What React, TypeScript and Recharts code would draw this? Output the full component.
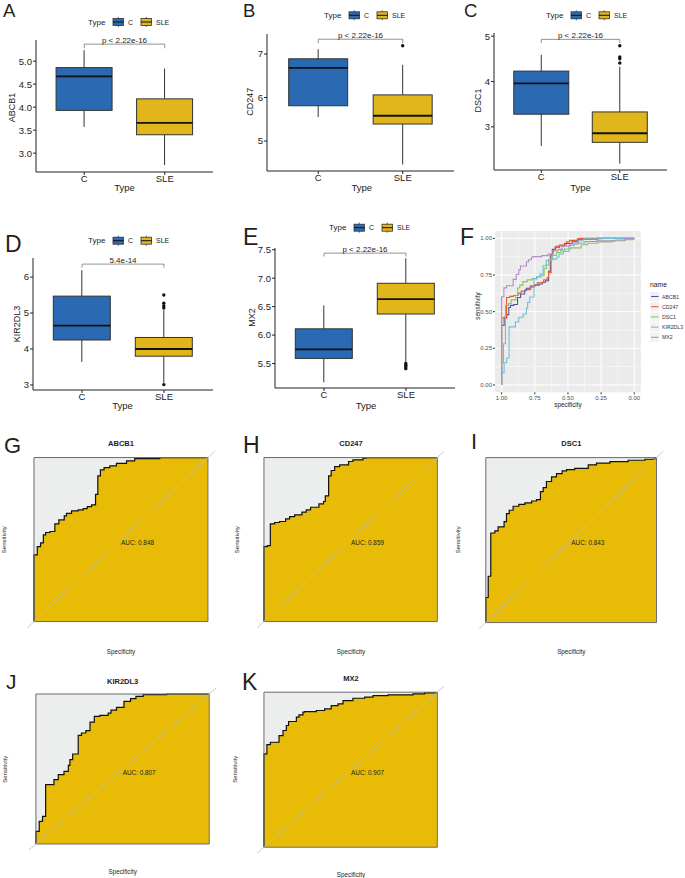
import React from 'react';
import {
  ComposedChart,
  LineChart,
  Bar,
  Line,
  Area,
  XAxis,
  YAxis,
  CartesianGrid,
  ReferenceLine,
  ReferenceArea,
} from 'recharts';

const FONT = '"Liberation Sans", Arial, Helvetica, sans-serif';

/* ---------------- data: box plots ---------------- */
const GROUPS = ['C', 'SLE'];
const GROUP_COLORS = ['#2A6AB3', '#E1B61B'];

// [lower whisker, Q1, median, Q3, upper whisker] for C and SLE
const ABCB1_BOX = [[3.57, 3.93, 4.67, 4.86, 5.24], [2.74, 3.4, 3.66, 4.18, 4.84]];
const ABCB1_OUT = [[], []];
const ABCB1_TICKS = [3.0, 3.5, 4.0, 4.5, 5.0];
const ABCB1_TICK_LABELS = ['3.0', '3.5', '4.0', '4.5', '5.0'];

const CD247_BOX = [[5.55, 5.81, 6.68, 6.89, 7.11], [4.46, 5.39, 5.58, 6.06, 6.75]];
const CD247_OUT = [[], [7.19]];
const CD247_TICKS = [5, 6, 7];
const CD247_TICK_LABELS = ['5', '6', '7'];

const DSC1_BOX = [[2.58, 3.28, 3.96, 4.23, 4.59], [2.19, 2.66, 2.86, 3.33, 4.33]];
const DSC1_OUT = [[], [4.41, 4.5, 4.54, 4.79]];
const DSC1_TICKS = [3, 4, 5];
const DSC1_TICK_LABELS = ['3', '4', '5'];

const KIR2DL3_BOX = [[3.64, 4.25, 4.65, 5.47, 6.19], [3.06, 3.8, 4.0, 4.32, 5.08]];
const KIR2DL3_OUT = [[], [3.01, 5.14, 5.2, 5.27, 5.5]];
const KIR2DL3_TICKS = [3, 4, 5, 6];
const KIR2DL3_TICK_LABELS = ['3', '4', '5', '6'];

const MX2_BOX = [[5.17, 5.59, 5.75, 6.11, 6.52], [5.53, 6.37, 6.63, 6.91, 7.35]];
const MX2_OUT = [[], [5.41, 5.44, 5.47, 5.5]];
const MX2_TICKS = [5.5, 6.0, 6.5, 7.0, 7.5];
const MX2_TICK_LABELS = ['5.5', '6.0', '6.5', '7.0', '7.5'];

const P_LABELS = ['p < 2.22e-16', 'p < 2.22e-16', 'p < 2.22e-16', '5.4e-14', 'p < 2.22e-16'];

/* ---------------- data: ROC curves (specificity, sensitivity) ---------------- */
const ABCB1_SPEC = [1, 1, 0.981, 0.962, 0.946, 0.933, 0.908, 0.88, 0.857, 0.826, 0.813, 0.784, 0.746, 0.717, 0.694, 0.669, 0.646, 0.633, 0.618, 0.597, 0.564, 0.526, 0.468, 0.421, 0.277, 0];
const ABCB1_SENS = [0, 0.407, 0.457, 0.48, 0.528, 0.543, 0.549, 0.596, 0.62, 0.644, 0.66, 0.675, 0.681, 0.689, 0.701, 0.711, 0.776, 0.888, 0.925, 0.939, 0.949, 0.965, 0.98, 0.994, 1.0, 1.0];

const CD247_SPEC = [1, 1, 0.981, 0.963, 0.938, 0.91, 0.875, 0.852, 0.823, 0.781, 0.756, 0.731, 0.683, 0.656, 0.646, 0.627, 0.612, 0.592, 0.563, 0.512, 0.487, 0.429, 0.41, 0];
const CD247_SENS = [0, 0.457, 0.463, 0.596, 0.604, 0.61, 0.626, 0.64, 0.65, 0.667, 0.681, 0.697, 0.717, 0.732, 0.766, 0.888, 0.921, 0.945, 0.955, 0.976, 0.986, 0.996, 1.0, 1.0];

const DSC1_SPEC = [1, 1, 0.986, 0.971, 0.947, 0.928, 0.893, 0.879, 0.863, 0.84, 0.807, 0.771, 0.732, 0.703, 0.68, 0.664, 0.645, 0.615, 0.586, 0.553, 0.527, 0.479, 0.4, 0.352, 0.273, 0.166, 0.068, 0.01, 0];
const DSC1_SENS = [0, 0.152, 0.281, 0.543, 0.556, 0.58, 0.612, 0.661, 0.681, 0.705, 0.717, 0.725, 0.737, 0.745, 0.794, 0.818, 0.855, 0.883, 0.903, 0.919, 0.927, 0.935, 0.956, 0.966, 0.976, 0.984, 0.99, 1.0, 1.0];

const KIR2DL3_SPEC = [1, 1, 0.981, 0.962, 0.944, 0.896, 0.871, 0.838, 0.813, 0.804, 0.788, 0.756, 0.737, 0.712, 0.688, 0.663, 0.631, 0.583, 0.567, 0.535, 0.492, 0.454, 0.423, 0.381, 0.246, 0];
const KIR2DL3_SENS = [0, 0.084, 0.151, 0.184, 0.396, 0.429, 0.462, 0.484, 0.524, 0.562, 0.6, 0.724, 0.74, 0.756, 0.813, 0.851, 0.858, 0.873, 0.893, 0.911, 0.951, 0.969, 0.984, 0.996, 1.0, 1.0];

const MX2_SPEC = [1, 1, 0.983, 0.963, 0.913, 0.89, 0.871, 0.858, 0.813, 0.798, 0.775, 0.765, 0.698, 0.65, 0.612, 0.573, 0.544, 0.487, 0.419, 0.371, 0.285, 0.14, 0.073, 0];
const MX2_SENS = [0, 0.602, 0.662, 0.677, 0.72, 0.753, 0.785, 0.811, 0.839, 0.854, 0.871, 0.875, 0.882, 0.892, 0.914, 0.925, 0.946, 0.961, 0.968, 0.978, 0.983, 0.989, 0.996, 1.0];

const GENES = ['ABCB1', 'CD247', 'DSC1', 'KIR2DL3', 'MX2'];
const AUC_LABELS = ['AUC: 0.848', 'AUC: 0.859', 'AUC: 0.843', 'AUC: 0.807', 'AUC: 0.907'];
const ROC_COLORS = ['#4A56A6', '#F05A2A', '#86C75D', '#72BFDA', '#B58CCB'];
const F_TICKS = [0, 0.25, 0.5, 0.75, 1];
const F_TICK_LABELS = ['0.00', '0.25', '0.50', '0.75', '1.00'];
const F_MINOR = [0.125, 0.375, 0.625, 0.875];
const ROC_GOLD = '#E8BC06';

const toRoc = (spec: number[], sens: number[]) => spec.map((s, i) => ({ spec: s, sens: sens[i] }));

/* ---------------- box plot ---------------- */
const BoxShape = (props: any) => {
  const { x, y, width, height, payload } = props;
  if (!payload) return null;
  const [lo, q1, med, q3, hi] = payload.stats;
  const top = Math.min(y, y + height);
  const h = Math.abs(height);
  const py = (v: number) => top + ((hi - v) * h) / (hi - lo);
  const cx = x + width / 2;
  return (
    <g>
      <line x1={cx} x2={cx} y1={py(hi)} y2={py(q3)} stroke="#333" strokeWidth={1} />
      <line x1={cx} x2={cx} y1={py(q1)} y2={py(lo)} stroke="#333" strokeWidth={1} />
      <rect x={x} y={py(q3)} width={width} height={py(q1) - py(q3)} fill={payload.color} stroke="#333" strokeWidth={1} />
      <line x1={x} x2={x + width} y1={py(med)} y2={py(med)} stroke="#111" strokeWidth={1.8} />
      {payload.out.map((v: number, i: number) => (
        <circle key={i} cx={cx} cy={py(v)} r={1.7} fill="#111" />
      ))}
    </g>
  );
};

type Geom = { axisX: number; plotTop: number; plotRight: number; axisY: number };

function BoxPanel(p: {
  geom: Geom;
  stats: number[][];
  outs: number[][];
  ticks: number[];
  tickLabels: string[];
  domain: [number, number];
  bracket: [number, number];
  pText: string;
}) {
  const yw = 32, mt = 4, mr = 4, xh = 16;
  const { geom } = p;
  const left = geom.axisX - yw;
  const top = geom.plotTop - mt;
  const width = geom.plotRight + mr - left;
  const height = geom.axisY + xh - top;
  const pw = geom.plotRight - geom.axisX;
  const pad = Math.round(pw * 0.0455);
  const data = GROUPS.map((g, i) => ({
    group: g,
    range: [p.stats[i][0], p.stats[i][4]],
    stats: p.stats[i],
    out: p.outs[i],
    color: GROUP_COLORS[i],
  }));
  const tickStyle = { fontSize: 9.5, fill: '#222', fontFamily: FONT };
  return (
    <div style={{ position: 'absolute', left, top }}>
      <ComposedChart width={width} height={height} data={data} margin={{ top: mt, right: mr, bottom: 0, left: 0 }} barCategoryGap="15%">
        <XAxis
          dataKey="group"
          height={xh}
          padding={{ left: pad, right: pad }}
          tickSize={3}
          tickMargin={0}
          tick={tickStyle}
          interval={0}
          axisLine={{ stroke: '#222', strokeWidth: 1 }}
          tickLine={{ stroke: '#222' }}
        />
        <YAxis
          width={yw}
          type="number"
          domain={p.domain}
          ticks={p.ticks}
          allowDataOverflow
          tickSize={3}
          tickMargin={1}
          tick={tickStyle}
          tickFormatter={(v: number) => p.tickLabels[p.ticks.indexOf(v)]}
          axisLine={{ stroke: '#222', strokeWidth: 1 }}
          tickLine={{ stroke: '#222' }}
          interval={0}
        />
        <Bar dataKey="range" shape={BoxShape} isAnimationActive={false} />
        <ReferenceLine
          segment={[{ x: 'C', y: p.bracket[0] }, { x: 'SLE', y: p.bracket[0] }]}
          stroke="#777"
          strokeWidth={0.8}
          ifOverflow="visible"
          label={{ value: p.pText, position: 'top', offset: 1, fontSize: 8, fill: '#222', fontFamily: FONT }}
        />
        <ReferenceLine segment={[{ x: 'C', y: p.bracket[0] }, { x: 'C', y: p.bracket[1] }]} stroke="#777" strokeWidth={0.8} ifOverflow="visible" />
        <ReferenceLine segment={[{ x: 'SLE', y: p.bracket[0] }, { x: 'SLE', y: p.bracket[1] }]} stroke="#777" strokeWidth={0.8} ifOverflow="visible" />
      </ComposedChart>
    </div>
  );
}

/* ---------------- single ROC ---------------- */
function RocPanel(p: { box: { x0: number; x1: number; y0: number; y1: number }; spec: number[]; sens: number[] }) {
  const e = 0.04;
  const bw = p.box.x1 - p.box.x0;
  const bh = p.box.y1 - p.box.y0;
  const left = p.box.x0 - e * bw;
  const top = p.box.y0 - e * bh;
  const width = bw * (1 + 2 * e);
  const height = bh * (1 + 2 * e);
  const data = toRoc(p.spec, p.sens);
  return (
    <div style={{ position: 'absolute', left, top }}>
      <ComposedChart width={width} height={height} data={data} margin={{ top: 0, right: 0, bottom: 0, left: 0 }}>
        <XAxis type="number" dataKey="spec" domain={[-e, 1 + e]} reversed hide allowDataOverflow />
        <YAxis type="number" domain={[-e, 1 + e]} hide allowDataOverflow />
        <Area dataKey={() => 1} baseValue={0} type="linear" fill="#ECEDED" fillOpacity={1} stroke="none" isAnimationActive={false} />
        <Area dataKey="sens" baseValue={0} type="stepAfter" fill={ROC_GOLD} fillOpacity={1} stroke="#111" strokeWidth={1.2} isAnimationActive={false} />
        <ReferenceLine segment={[{ x: 1 + e, y: -e }, { x: -e, y: 1 + e }]} stroke="#BDBDBD" strokeWidth={0.8} ifOverflow="visible" />
        <ReferenceArea x1={0} x2={1} y1={0} y2={1} fill="none" stroke="#6B6B6B" strokeWidth={1} ifOverflow="visible" />
      </ComposedChart>
    </div>
  );
}

/* ---------------- combined ROC (F) ---------------- */
const ROC_SERIES = [
  toRoc(ABCB1_SPEC, ABCB1_SENS),
  toRoc(CD247_SPEC, CD247_SENS),
  toRoc(DSC1_SPEC, DSC1_SENS),
  toRoc(KIR2DL3_SPEC, KIR2DL3_SENS),
  toRoc(MX2_SPEC, MX2_SENS),
];

function PanelF() {
  const left = 455.4, top = 230.7;
  const yw = 40, xh = 12;
  const width = 641.3 - left;
  const height = 392 - top + xh;
  const tickStyle = { fontSize: 6, fill: '#4D4D4D', fontFamily: FONT };
  return (
    <div style={{ position: 'absolute', left, top }}>
      <LineChart width={width} height={height} margin={{ top: 0, right: 0, bottom: 0, left: 0 }}>
        <CartesianGrid fill="#EBEBEB" stroke="#FFFFFF" strokeWidth={0.5} horizontalValues={F_MINOR} verticalValues={F_MINOR} />
        <CartesianGrid stroke="#FFFFFF" strokeWidth={1} horizontalValues={F_TICKS} verticalValues={F_TICKS} />
        <XAxis
          type="number"
          dataKey="spec"
          domain={[-0.05, 1.05]}
          reversed
          allowDataOverflow
          ticks={F_TICKS}
          tickFormatter={(v: number) => F_TICK_LABELS[F_TICKS.indexOf(v)]}
          height={xh}
          tickSize={2}
          tickMargin={1}
          tick={tickStyle}
          axisLine={false}
          tickLine={{ stroke: '#333' }}
          interval={0}
        />
        <YAxis
          type="number"
          domain={[-0.05, 1.05]}
          allowDataOverflow
          ticks={F_TICKS}
          tickFormatter={(v: number) => F_TICK_LABELS[F_TICKS.indexOf(v)]}
          width={yw}
          tickSize={2}
          tickMargin={1}
          tick={tickStyle}
          axisLine={false}
          tickLine={{ stroke: '#333' }}
          interval={0}
        />
        {ROC_SERIES.map((d, i) => (
          <Line key={GENES[i]} data={d} dataKey="sens" name={GENES[i]} type="stepAfter" stroke={ROC_COLORS[i]} strokeWidth={1.1} dot={false} isAnimationActive={false} />
        ))}
      </LineChart>
    </div>
  );
}

/* ---------------- overlay text helpers ---------------- */
const Txt = (p: { x: number; y: number; s: string; size: number; anchor?: string; weight?: string; rot?: number; fill?: string }) => (
  <text
    x={p.x}
    y={p.y}
    fontSize={p.size}
    textAnchor={(p.anchor || 'middle') as any}
    dominantBaseline="central"
    fontWeight={p.weight || 'normal'}
    fill={p.fill || '#222'}
    fontFamily={FONT}
    transform={p.rot ? `rotate(${p.rot} ${p.x} ${p.y})` : undefined}
  >
    {p.s}
  </text>
);

const Letter = (p: { x: number; y: number; s: string; size: number }) => (
  <text x={p.x} y={p.y} fontSize={p.size} fill="#231F20" fontFamily={FONT}>
    {p.s}
  </text>
);

const BoxLegend = (p: { x: number; y: number }) => {
  const keys = [p.x + 25, p.x + 53];
  const labs = [p.x + 40, p.x + 68];
  return (
    <g>
      <Txt x={p.x} y={p.y} s="Type" size={8} anchor="start" />
      {GROUPS.map((g, i) => (
        <g key={g}>
          <line x1={keys[i] + 5.25} x2={keys[i] + 5.25} y1={p.y - 5} y2={p.y + 5} stroke="#333" strokeWidth={0.8} />
          <rect x={keys[i]} y={p.y - 3.5} width={10.5} height={7} fill={GROUP_COLORS[i]} stroke="#333" strokeWidth={0.8} />
          <line x1={keys[i]} x2={keys[i] + 10.5} y1={p.y} y2={p.y} stroke="#111" strokeWidth={1} />
          <Txt x={labs[i]} y={p.y} s={g} size={7} anchor="start" />
        </g>
      ))}
    </g>
  );
};

const FLegend = () => {
  const ys = [296.5, 306.7, 316.9, 327.1, 337.3];
  return (
    <g>
      <Txt x={650} y={284} s="name" size={6.8} anchor="start" />
      {GENES.map((g, i) => (
        <g key={g}>
          <rect x={650} y={ys[i] - 4.6} width={9.5} height={9.2} fill="#F2F2F2" />
          <line x1={651} x2={658.5} y1={ys[i]} y2={ys[i]} stroke={ROC_COLORS[i]} strokeWidth={1.1} />
          <Txt x={662} y={ys[i]} s={g} size={5.2} anchor="start" fill="#333" />
        </g>
      ))}
    </g>
  );
};

/* ---------------- ROC panel geometry ---------------- */
const ROC_BOXES = [
  { x0: 34, x1: 208, y0: 457.7, y1: 621.7 },
  { x0: 264.3, x1: 437.7, y0: 457.7, y1: 621.7 },
  { x0: 486, x1: 656.7, y0: 457.3, y1: 622.3 },
  { x0: 36, x1: 209.3, y0: 694.3, y1: 844.3 },
  { x0: 264.3, x1: 437.7, y0: 691.7, y1: 846.7 },
];
const ROC_SPECS = [ABCB1_SPEC, CD247_SPEC, DSC1_SPEC, KIR2DL3_SPEC, MX2_SPEC];
const ROC_SENSS = [ABCB1_SENS, CD247_SENS, DSC1_SENS, KIR2DL3_SENS, MX2_SENS];
const ROC_TITLE_Y = [443, 443, 443, 681.7, 678];
const ROC_SENS_X = [4, 236.7, 458.5, 5, 235];
const ROC_SPEC_LABEL_Y = [651, 651, 651, 871, 874.3];

export default function App() {
  return (
    <div style={{ position: 'absolute', left: 0, top: 0, width: 685, height: 878, background: '#FFFFFF', overflow: 'hidden' }}>
      <BoxPanel geom={{ axisX: 36, plotTop: 40, plotRight: 213, axisY: 172 }} stats={ABCB1_BOX} outs={ABCB1_OUT} ticks={ABCB1_TICKS} tickLabels={ABCB1_TICK_LABELS} domain={[2.59, 5.46]} bracket={[5.37, 5.28]} pText={P_LABELS[0]} />
      <BoxPanel geom={{ axisX: 267, plotTop: 34, plotRight: 454, axisY: 171 }} stats={CD247_BOX} outs={CD247_OUT} ticks={CD247_TICKS} tickLabels={CD247_TICK_LABELS} domain={[4.31, 7.46]} bracket={[7.34, 7.25]} pText={P_LABELS[1]} />
      <BoxPanel geom={{ axisX: 494, plotTop: 33, plotRight: 667, axisY: 170 }} stats={DSC1_BOX} outs={DSC1_OUT} ticks={DSC1_TICKS} tickLabels={DSC1_TICK_LABELS} domain={[2.05, 5.07]} bracket={[4.93, 4.85]} pText={P_LABELS[2]} />
      <BoxPanel geom={{ axisX: 33, plotTop: 258, plotRight: 213, axisY: 390 }} stats={KIR2DL3_BOX} outs={KIR2DL3_OUT} ticks={KIR2DL3_TICKS} tickLabels={KIR2DL3_TICK_LABELS} domain={[2.86, 6.53]} bracket={[6.36, 6.26]} pText={P_LABELS[3]} />
      <BoxPanel geom={{ axisX: 275, plotTop: 248, plotRight: 455, axisY: 388 }} stats={MX2_BOX} outs={MX2_OUT} ticks={MX2_TICKS} tickLabels={MX2_TICK_LABELS} domain={[5.07, 7.53]} bracket={[7.44, 7.38]} pText={P_LABELS[4]} />
      <PanelF />
      {ROC_BOXES.map((b, i) => (
        <RocPanel key={GENES[i]} box={b} spec={ROC_SPECS[i]} sens={ROC_SENSS[i]} />
      ))}

      <svg width={685} height={878} style={{ position: 'absolute', left: 0, top: 0, pointerEvents: 'none' }}>
        {/* panel letters */}
        <Letter x={3} y={17} s="A" size={18.5} />
        <Letter x={243} y={17} s="B" size={18.5} />
        <Letter x={464} y={17} s="C" size={18.5} />
        <Letter x={5} y={252} s="D" size={23} />
        <Letter x={243} y={245} s="E" size={23} />
        <Letter x={460} y={245} s="F" size={23} />
        <Letter x={4} y={453} s="G" size={22} />
        <Letter x={243} y={453} s="H" size={23} />
        <Letter x={471} y={449} s="I" size={22} />
        <Letter x={6} y={689} s="J" size={21} />
        <Letter x={242} y={690} s="K" size={23} />

        {/* box legends */}
        <BoxLegend x={88} y={22} />
        <BoxLegend x={324} y={15.3} />
        <BoxLegend x={546} y={15.3} />
        <BoxLegend x={88} y={240.7} />
        <BoxLegend x={329} y={227.7} />

        {/* box axis titles */}
        <Txt x={12} y={107.5} s="ABCB1" size={9} rot={-90} />
        <Txt x={250} y={101.7} s="CD247" size={9} rot={-90} />
        <Txt x={478.3} y={100.5} s="DSC1" size={9} rot={-90} />
        <Txt x={16.7} y={324} s="KIR2DL3" size={9} rot={-90} />
        <Txt x={251.7} y={317.5} s="MX2" size={9} rot={-90} />
        <Txt x={124.5} y={187} s="Type" size={9.5} />
        <Txt x={361.7} y={187} s="Type" size={9.5} />
        <Txt x={580.5} y={187} s="Type" size={9.5} />
        <Txt x={122.5} y={405.7} s="Type" size={9.5} />
        <Txt x={366} y={405.7} s="Type" size={9.5} />

        {/* F titles + legend */}
        <Txt x={568} y={404.3} s="specificity" size={6.3} />
        <Txt x={477.5} y={306} s="sensitivity" size={6.3} rot={-90} />
        <FLegend />

        {/* ROC panel texts */}
        {ROC_BOXES.map((b, i) => {
          const cx = (b.x0 + b.x1) / 2;
          const cy = (b.y0 + b.y1) / 2;
          return (
            <g key={GENES[i]}>
              <Txt x={cx} y={ROC_TITLE_Y[i]} s={GENES[i]} size={7.5} weight="bold" />
              <Txt x={ROC_SENS_X[i]} y={cy} s="Sensitivity" size={6} rot={-90} />
              <Txt x={cx} y={ROC_SPEC_LABEL_Y[i]} s="Specificity" size={6.3} />
              <Txt x={cx} y={cy + 3} s={AUC_LABELS[i]} size={6.4} anchor="start" />
            </g>
          );
        })}
      </svg>
    </div>
  );
}
